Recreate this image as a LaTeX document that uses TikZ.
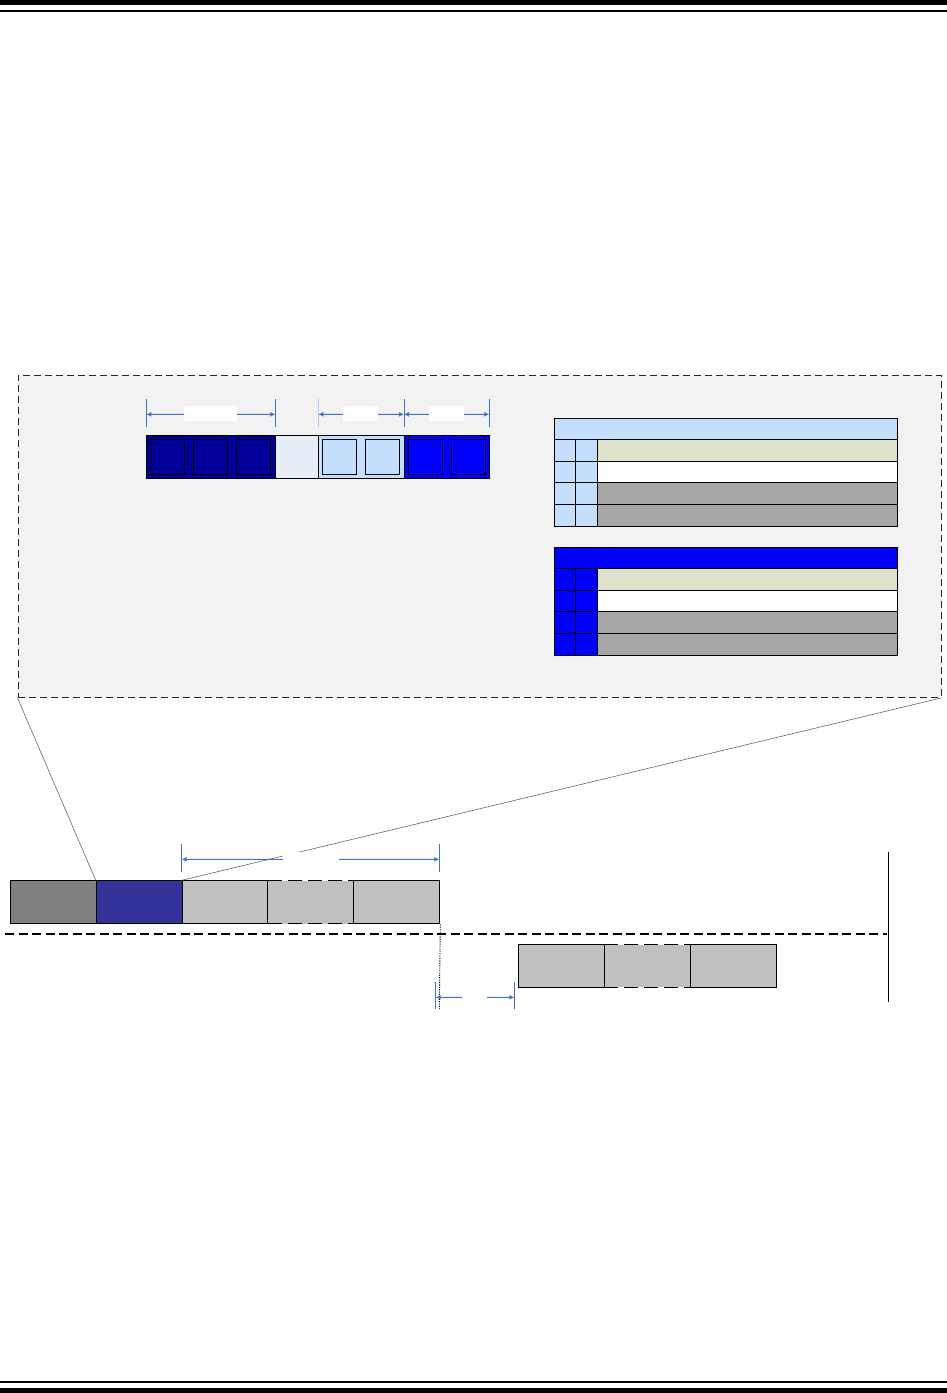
\documentclass[tikz,border=0pt]{standalone}
\usetikzlibrary{arrows.meta,calc}
\definecolor{dkblue}{HTML}{000099}
\definecolor{paleblue}{HTML}{E6EEF8}
\definecolor{ltblue}{HTML}{C3DFFB}
\definecolor{pureblue}{HTML}{0000FF}
\definecolor{midblue}{HTML}{333399}
\definecolor{dkgray}{HTML}{808080}
\definecolor{ltgray}{HTML}{C0C0C0}
\definecolor{olivegray}{HTML}{DDE2CC}
\definecolor{rowgray}{HTML}{A6A6A6}
\definecolor{panelgray}{HTML}{F2F2F2}
\definecolor{dimblue}{HTML}{4472C4}
\tikzset{
  blk/.style={draw=black, line width=1pt, inner sep=0pt, anchor=north west, rectangle},
  sq/.style={draw=black, line width=1pt, inner sep=0pt, minimum width=34pt, minimum height=35pt, anchor=north west, rectangle},
  dimarrow/.style={draw=dimblue, line width=1pt, -{Latex[length=5pt,width=5pt]}},
  tick/.style={draw=dimblue, line width=1pt},
  lab/.style={fill=white, inner sep=0pt, anchor=north west, rectangle},
  zoomline/.style={draw=black!60, line width=0.6pt},
  gapdash/.style={line width=1pt, dash pattern=on 14pt off 6pt},
}
\begin{document}
\begin{tikzpicture}[x=1pt,y=-1pt]
\useasboundingbox (0,0) rectangle (947,1393);
% page rules
\fill[black] (0,0) rectangle (947,4.5);
\fill[black] (0,9.7) rectangle (947,12);
\fill[black] (0,1380.7) rectangle (947,1382.7);
\fill[black] (0,1387.7) rectangle (947,1393);

% panel
\node[draw=black!85, dash pattern=on 7pt off 4pt, line width=0.9pt, fill=panelgray, inner sep=0pt, anchor=north west,
      minimum width=923pt, minimum height=322pt] (panel) at (17.5,375) {};

% top bar in panel
\node[blk, fill=dkblue, minimum width=129pt, minimum height=43pt] (tA) at (146.3,435.3) {};
\node[blk, fill=paleblue, minimum width=43pt, minimum height=43pt] (tB) at (275.3,435.3) {};
\node[blk, fill=ltblue, minimum width=85.7pt, minimum height=43pt] (tC) at (318.3,435.3) {};
\node[blk, fill=pureblue, minimum width=85.3pt, minimum height=43pt] (tD) at (404,435.3) {};
\node[sq, fill=dkblue] (s1) at (150.3,439.3) {};
\node[sq, fill=dkblue] (s2) at (193.3,439.3) {};
\node[sq, fill=dkblue] (s3) at (236.3,439.3) {};
\node[sq, fill=ltblue] (s4) at (322.3,439.3) {};
\node[sq, fill=ltblue] (s5) at (365.3,439.3) {};
\node[sq, fill=pureblue] (s6) at (408.3,439.3) {};
\node[sq, fill=pureblue] (s7) at (451.3,439.3) {};

% dimension lines on top bar
\coordinate (k0) at (146.3,414.3);
\coordinate (k1) at (275.3,414.3);
\coordinate (k2) at (318.3,414.3);
\coordinate (k3) at (404,414.3);
\coordinate (k4) at (489.3,414.3);
\foreach \k in {k0,k1,k3,k4} \draw[tick] ([yshift=-13pt]\k) -- ([yshift=15pt]\k);
\draw[tick, draw=dimblue!40] ([yshift=-13pt]k2) -- ([yshift=15pt]k2);
\draw[dimarrow] ($(k0)!0.5!(k1)$) -- (k0);
\draw[dimarrow] ($(k0)!0.5!(k1)$) -- (k1);
\draw[dimarrow] ($(k2)!0.5!(k3)$) -- (k2);
\draw[dimarrow] ($(k2)!0.5!(k3)$) -- (k3);
\draw[dimarrow] ($(k3)!0.5!(k4)$) -- (k3);
\draw[dimarrow] ($(k3)!0.5!(k4)$) -- (k4);
\node[lab, minimum width=52.7pt, minimum height=14.7pt] (l1) at (184,406) {};
\node[lab, minimum width=34.7pt, minimum height=14.7pt] (l2) at (343,406) {};
\node[lab, minimum width=34.7pt, minimum height=14.7pt] (l3) at (429,406) {};

% table 1
\node[blk, fill=ltblue, minimum width=343pt, minimum height=21pt] (h1) at (554.3,418.3) {};
\foreach \y/\c [count=\i] in {439.3/olivegray,461.3/white,482.3/rowgray,504.3/rowgray}{
  \node[blk, fill=ltblue, minimum width=21pt, minimum height=21.5pt] (a\i) at (554.3,\y) {};
  \node[blk, fill=ltblue, minimum width=22pt, minimum height=21.5pt] (b\i) at (575.3,\y) {};
  \node[blk, fill=\c, minimum width=300pt, minimum height=21.5pt] (c\i) at (597.3,\y) {};
}
% table 2
\node[blk, fill=pureblue, minimum width=343pt, minimum height=21.3pt] (h2) at (554.3,547) {};
\foreach \y/\c [count=\i] in {568.3/olivegray,590.3/white,611.3/rowgray,633.3/rowgray}{
  \node[blk, fill=pureblue, minimum width=21pt, minimum height=21.5pt] (d\i) at (554.3,\y) {};
  \node[blk, fill=pureblue, minimum width=22pt, minimum height=21.5pt] (e\i) at (575.3,\y) {};
  \node[blk, fill=\c, minimum width=300pt, minimum height=21.5pt] (f\i) at (597.3,\y) {};
}

% bottom bar
\node[blk, fill=dkgray, minimum width=86pt, minimum height=43pt] (b1) at (9.7,880.3) {};
\node[blk, fill=midblue, minimum width=86pt, minimum height=43pt] (b2) at (95.7,880.3) {};
\node[blk, fill=ltgray, minimum width=86pt, minimum height=43pt] (b3) at (181.7,880.3) {};
\node[inner sep=0pt, fill=ltgray, anchor=north west, rectangle, minimum width=85.6pt, minimum height=43pt] (b4) at (267.7,880.3) {};
\node[blk, fill=ltgray, minimum width=86pt, minimum height=43pt] (b5) at (353.3,880.3) {};
\draw[gapdash] (b4.north west) -- (b4.north east);
\draw[gapdash] (b4.south west) -- (b4.south east);
\draw[line width=1pt] (b4.north west) -- (b4.south west) (b4.north east) -- (b4.south east);

% zoom lines
\draw[zoomline] (panel.south west) -- (b2.north west);
\draw[zoomline] (panel.south east) -- (b3.north west);

% dimension over b3..b5
\coordinate (m0) at (181.7,859.3);
\coordinate (m1) at (439.3,859.3);
\draw[tick] ([yshift=-13pt]m0) -- ([yshift=15pt]m0);
\draw[tick] ([yshift=-13pt]m1) -- ([yshift=15pt]m1);
\draw[dimarrow] ($(m0)!0.5!(m1)$) -- (m0);
\draw[dimarrow] ($(m0)!0.5!(m1)$) -- (m1);
\node[lab, minimum width=56pt, minimum height=14pt] (l4) at (283,852) {};

% dashed separator
\coordinate (sepL) at (5,934);
\coordinate (sepR) at (887,934);
\draw[line width=2pt, dash pattern=on 9pt off 4.5pt] (sepL) -- (sepR);
\coordinate (vt) at (888.3,852.3);
\coordinate (vb) at (888.3,1001.7);
\draw[line width=1.2pt] (vt) -- (vb);

% dotted vertical
\coordinate (dtb) at (439.3,1009);
\draw[line width=0.9pt, dash pattern=on 1.2pt off 1.2pt] (b5.south east) -- (dtb);

% lower bar
\node[blk, fill=ltgray, minimum width=86pt, minimum height=42.7pt] (r1) at (518.3,944.3) {};
\node[inner sep=0pt, fill=ltgray, anchor=north west, rectangle, minimum width=86pt, minimum height=42.7pt] (r2) at (604.3,944.3) {};
\node[blk, fill=ltgray, minimum width=86pt, minimum height=42.7pt] (r3) at (690.3,944.3) {};
\draw[gapdash] (r2.north west) -- (r2.north east);
\draw[gapdash] (r2.south west) -- (r2.south east);
\draw[line width=1pt] (r2.north west) -- (r2.south west) (r2.north east) -- (r2.south east);

% lower dimension
\coordinate (n0) at (435.7,997.3);
\coordinate (n1) at (514.3,997.3);
\draw[tick] ([yshift=-12pt]n0) -- ([yshift=15pt]n0);
\draw[tick] ([yshift=-12pt]n1) -- ([yshift=15pt]n1);
\draw[dimarrow] ($(n0)!0.5!(n1)$) -- (n0);
\draw[dimarrow] ($(n0)!0.5!(n1)$) -- (n1);
\node[lab, minimum width=25pt, minimum height=10pt] (l5) at (462,992) {};
\end{tikzpicture}
\end{document}
